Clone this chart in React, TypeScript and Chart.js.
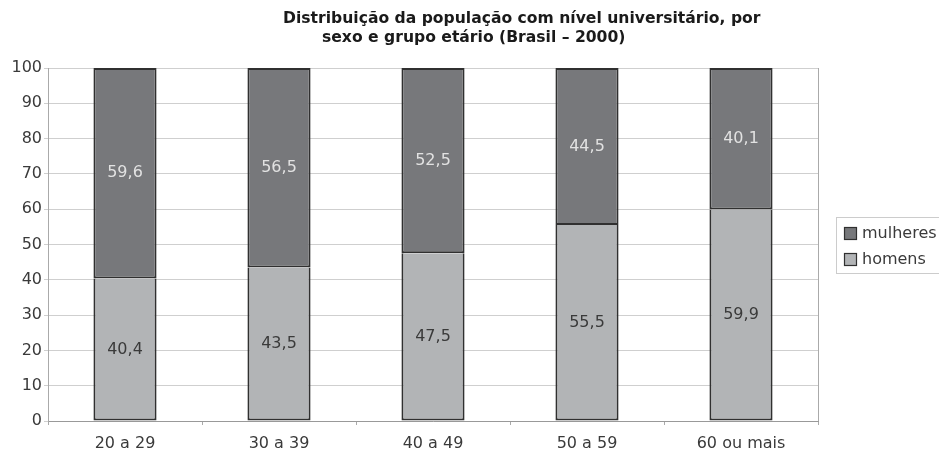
import React, { useEffect, useRef } from "react";
import { Chart, registerables } from "chart.js";

Chart.register(...registerables);

const categories = ["20 a 29", "30 a 39", "40 a 49", "50 a 59", "60 ou mais"];
const homens = [40.4, 43.5, 47.5, 55.5, 59.9];
const mulheres = [59.6, 56.5, 52.5, 44.5, 40.1];
const seriesNames = ["mulheres", "homens"];
const titleLines = [
  "Distribuição da população com nível universitário, por",
  "sexo e grupo etário (Brasil – 2000)",
];

const DARK = "#77787b";
const LIGHT = "#b2b4b6";
const EDGE = "#303030";
const FONT = "'DejaVu Sans', sans-serif";

const fmt = (v: number) => v.toFixed(1).replace(".", ",");

const extrasPlugin = {
  id: "extras",
  afterDatasetsDraw(chart: any) {
    const ctx = chart.ctx as CanvasRenderingContext2D;
    const { chartArea } = chart;
    ctx.save();
    // right border of plot
    ctx.strokeStyle = "#aaaaaa";
    ctx.lineWidth = 1;
    ctx.beginPath();
    ctx.moveTo(chartArea.right + 0.5, chartArea.top);
    ctx.lineTo(chartArea.right + 0.5, chartArea.bottom);
    ctx.stroke();

    // value labels
    ctx.font = `16px ${FONT}`;
    ctx.textAlign = "center";
    ctx.textBaseline = "middle";
    chart.data.datasets.forEach((ds: any, di: number) => {
      const meta = chart.getDatasetMeta(di);
      meta.data.forEach((bar: any, i: number) => {
        const y = (bar.y + bar.base) / 2;
        ctx.fillStyle = ds.label === "mulheres" ? "#e2e2e2" : "#3a3a3a";
        ctx.fillText(fmt(ds.data[i]), bar.x, y);
      });
    });

    // title
    ctx.fillStyle = "#1a1a1a";
    ctx.font = `bold 15.6px 'DejaVu Sans', sans-serif`;
    ctx.textBaseline = "alphabetic";
    ctx.textAlign = "left";
    ctx.fillText(titleLines[0], 283, 23);
    ctx.fillText(titleLines[1], 322, 42);

    // legend
    const lx = 836, ly = 217, lw = 110, lh = 56;
    ctx.strokeStyle = "#cccccc";
    ctx.lineWidth = 1;
    ctx.strokeRect(lx + 0.5, ly + 0.5, lw, lh);
    const items = [
      { label: seriesNames[0], color: DARK, y: 233 },
      { label: seriesNames[1], color: LIGHT, y: 259 },
    ];
    ctx.font = `16px ${FONT}`;
    ctx.textAlign = "left";
    ctx.textBaseline = "middle";
    items.forEach((it) => {
      ctx.fillStyle = it.color;
      ctx.fillRect(844, it.y - 6, 13, 13);
      ctx.strokeStyle = EDGE;
      ctx.lineWidth = 1.2;
      ctx.strokeRect(844.5, it.y - 5.5, 12, 12);
      ctx.fillStyle = "#3a3a3a";
      ctx.fillText(it.label, 862, it.y + 1);
    });
    ctx.restore();
  },
};

export default function App() {
  const ref = useRef<HTMLCanvasElement>(null);
  useEffect(() => {
    if (!ref.current) return;
    const chart = new Chart(ref.current, {
      type: "bar",
      data: {
        labels: categories,
        datasets: [
          {
            label: seriesNames[1],
            data: homens,
            backgroundColor: LIGHT,
            borderColor: EDGE,
            borderWidth: 2,
            borderSkipped: "end",
            barPercentage: 0.41,
            categoryPercentage: 1,
          },
          {
            label: seriesNames[0],
            data: mulheres,
            backgroundColor: DARK,
            borderColor: EDGE,
            borderWidth: 2,
            borderSkipped: false,
            barPercentage: 0.41,
            categoryPercentage: 1,
          },
        ],
      },
      options: {
        animation: false,
        responsive: false,
        maintainAspectRatio: false,
        layout: { padding: { left: 0, right: 121, top: 68, bottom: 0 } },
        plugins: {
          legend: { display: false },
          title: { display: false },
          tooltip: { enabled: false },
        },
        scales: {
          x: {
            stacked: true,
            afterFit: (s: any) => {
              s.height = 33;
            },
            grid: {
              offset: true,
              drawOnChartArea: false,
              drawTicks: true,
              tickLength: 4,
              color: "#aaaaaa",
            },
            border: { color: "#999999", width: 1 },
            ticks: { color: "#3a3a3a", font: { family: FONT, size: 16 }, padding: 9 },
          },
          y: {
            stacked: true,
            min: 0,
            max: 100,
            afterFit: (s: any) => {
              s.width = 48;
            },
            grid: { color: "#cfcfcf", tickLength: 4 },
            border: { color: "#aaaaaa", width: 1 },
            ticks: {
              stepSize: 10,
              color: "#3a3a3a",
              font: { family: FONT, size: 16 },
              padding: 2,
            },
          },
        },
      },
      plugins: [extrasPlugin],
    });
    return () => chart.destroy();
  }, []);
  return (
    <div style={{ position: "fixed", left: 0, top: 0, width: 939, height: 454, background: "#fff" }}>
      <canvas ref={ref} width={939} height={454} style={{ width: 939, height: 454 }} />
    </div>
  );
}
